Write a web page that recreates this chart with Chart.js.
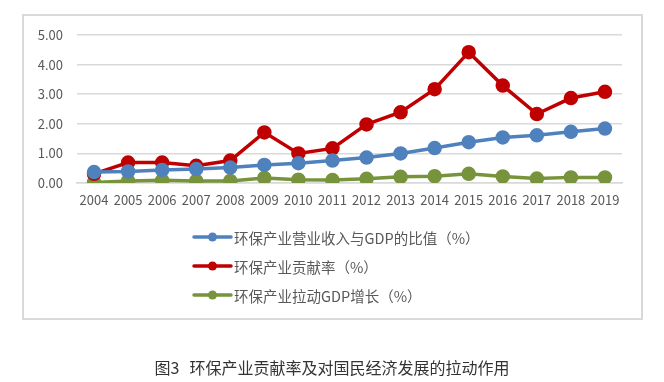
<!DOCTYPE html>
<html><head><meta charset="utf-8">
<script src="https://cdn.jsdelivr.net/npm/chart.js@4/dist/chart.umd.min.js"></script>
<style>
html,body{margin:0;padding:0;background:#fff;width:664px;height:382px;overflow:hidden;}
#frame{position:absolute;left:22px;top:14px;width:617px;height:302px;border:2px solid #d9d9d9;}
#wrap{position:absolute;left:0;top:0;width:664px;height:382px;}
#cap{position:absolute;left:0;top:355px;width:664px;text-align:center;font-family:"Noto Sans CJK SC","Noto Sans",sans-serif;font-size:16px;color:#333;white-space:pre;}
#cap span{margin-right:10px;}
</style></head><body>
<div id="frame"></div>
<div id="wrap"><canvas id="c" width="664" height="382"></canvas></div>
<div id="cap"><span>图3</span>环保产业贡献率及对国民经济发展的拉动作用</div>
<script>
const years = ["2004","2005","2006","2007","2008","2009","2010","2011","2012","2013","2014","2015","2016","2017","2018","2019"];
const ratioGDP = [0.37,0.39,0.44,0.47,0.52,0.61,0.67,0.76,0.86,1.00,1.18,1.38,1.54,1.61,1.73,1.84];
const contribution = [0.31,0.69,0.69,0.58,0.76,1.71,1.00,1.17,1.98,2.39,3.17,4.42,3.29,2.33,2.87,3.08];
const pullGDP = [0.02,0.07,0.09,0.07,0.07,0.17,0.11,0.10,0.14,0.21,0.23,0.31,0.22,0.15,0.19,0.19];
const seriesNames = ["环保产业营业收入与GDP的比值（%）","环保产业贡献率（%）","环保产业拉动GDP增长（%）"];
const colors = ["#4f81bd","#c00000","#77933c"];
const FONT = '"Noto Sans CJK SC","Noto Sans",sans-serif';

const legendPlugin = {
  id:'customLegend',
  afterDraw(chart){
    const ctx = chart.ctx;
    const rows = [237,266,295];
    chart.data.datasets.forEach((ds,i)=>{
      const y = rows[i];
      ctx.save();
      ctx.strokeStyle = ds.borderColor; ctx.lineWidth = 3.5; ctx.lineCap='round';
      ctx.beginPath(); ctx.moveTo(194,y); ctx.lineTo(231,y); ctx.stroke();
      ctx.fillStyle = ds.borderColor;
      ctx.beginPath(); ctx.arc(212.5,y,4.5,0,Math.PI*2); ctx.fill();
      ctx.fillStyle = '#595959'; ctx.font = '14.5px '+FONT; ctx.textBaseline='middle'; ctx.textAlign='left';
      ctx.fillText(ds.label,234,y+1);
      ctx.restore();
    });
  }
};

const mk = (label,data,color)=>({label,data,borderColor:color,backgroundColor:color,borderWidth:3.5,pointRadius:5.5,pointHoverRadius:5.5,pointBackgroundColor:color,pointBorderColor:color,tension:0,fill:false});

new Chart(document.getElementById('c'),{
  type:'line',
  data:{labels:years,datasets:[mk(seriesNames[0],ratioGDP,colors[0]),mk(seriesNames[1],contribution,colors[1]),mk(seriesNames[2],pullGDP,colors[2])]},
  options:{
    responsive:false,animation:false,
    layout:{padding:{left:0,top:35,right:42,bottom:169}},
    plugins:{legend:{display:false},tooltip:{enabled:false}},
    scales:{
      x:{offset:true,grid:{display:false,drawTicks:false},border:{display:true,color:'#d9d9d9',width:1.5},
         ticks:{color:'#595959',font:{family:FONT,size:13},padding:9,maxRotation:0,autoSkip:false},
         afterFit(s){s.height=30;}},
      y:{min:0,max:5,grid:{color:'#d9d9d9',lineWidth:1.5,drawTicks:false},border:{display:false},
         ticks:{stepSize:1,color:'#595959',font:{family:FONT,size:13},padding:14,callback:v=>Number(v).toFixed(2)},
         afterFit(s){s.width=77;}}
    }
  },
  plugins:[legendPlugin]
});
</script>
</body></html>
